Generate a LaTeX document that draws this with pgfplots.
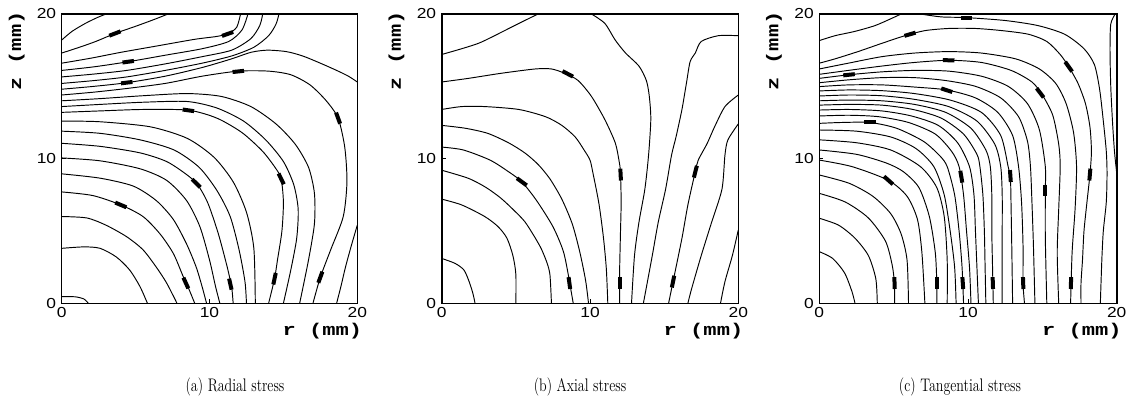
\documentclass[border=0pt]{standalone}
\usepackage{fontspec}
\usepackage{graphicx}
\usepackage{pgfplots}
\pgfplotsset{compat=1.18}
\newfontfamily\tickfont{Liberation Sans}
\newfontfamily\labfont{Liberation Mono}
\newcommand\tl[1]{\scalebox{1.2}[1]{\fontsize{14.5}{14.5}\selectfont\tickfont #1}}
\newcommand\lab[1]{\scalebox{1.3}[1]{\fontsize{17}{17}\selectfont\labfont\bfseries #1}}
\newcommand\capt[1]{\scalebox{1}[1.3]{\fontsize{14}{16}\selectfont #1}}
\newcommand\cl[1]{\addplot[cline] coordinates {#1};}
\newcommand\lb[4]{\addplot[lbl] coordinates {(#1,#2)(#3,#4)};}
\pgfplotsset{
  cline/.style={black, line width=0.95pt, smooth, tension=0.45, no marks},
  lbl/.style={black, line width=4pt, no marks, shorten <=-1.6pt, shorten >=-1.6pt},
  panel/.style={scale only axis, height=289.3pt, anchor=south west,
    xmin=0, xmax=20, ymin=0, ymax=20,
    xtick={0,10,20}, ytick={0,10,20},
    xticklabels={\tl{0},\tl{10},\tl{20}},
    yticklabels={\tl{0},\tl{10},\tl{20}},
    axis line style={line width=1.6pt},
    tick style={black, line width=0.8pt}, major tick length=4pt,
    tick align=inside, xtick pos=left, ytick pos=left,
    xticklabel style={yshift=-1pt}, yticklabel style={xshift=-2pt},
    clip=false}
}
\begin{document}
\begin{tikzpicture}
\path (0,0) rectangle (1136pt,418pt);
% ---------------- (a) Radial stress
\begin{axis}[panel, width=295.6pt, at={(61.7pt,114.7pt)}]
\cl{(0,0.46)(0.9,0.45)(1.5,0.3)(1.8,0)}
\cl{(0,3.8)(1.5,3.9)(2.6,3.8)(3.7,3.2)(4.6,2.3)(5.3,1.15)(5.8,0)}
\cl{(0,6.0)(1.7,5.9)(3.0,5.4)(4.4,4.6)(5.5,3.7)(6.4,2.5)(7.1,1.4)(7.8,0)}
\cl{(0,7.7)(2.1,7.45)(4.0,6.8)(5.5,6.0)(6.65,4.8)(7.55,3.45)(8.2,1.9)(8.6,1.0)(9.0,0)}
\cl{(0,8.95)(2.6,8.65)(4.85,8.1)(6.4,7.1)(7.55,5.8)(8.45,4.1)(9.1,2.5)(9.5,1.15)(9.8,0)}
\cl{(0,10.05)(2.6,9.85)(5.3,9.3)(7.1,8.5)(8.45,7.1)(9.35,5.3)(10.0,3.0)(10.4,1.2)(10.7,0)}
\cl{(0,11.06)(2.6,10.85)(5.3,10.4)(7.1,9.8)(8.45,8.9)(9.2,8.2)(9.9,6.9)(10.6,4.8)(11.2,2.5)(11.5,1.1)(11.6,0)}
\cl{(0,11.9)(2.6,11.75)(5.3,11.3)(7.6,10.6)(9.3,9.4)(10.5,7.8)(11.4,6.0)(12.0,3.7)(12.4,1.5)(12.5,0)}
\cl{(0,12.6)(2.6,12.55)(6.0,12.2)(8.5,11.4)(10.3,10.1)(11.6,8.4)(12.5,6.3)(13.0,3.8)(13.1,0)}
\cl{(0,13.2)(2.6,13.3)(5.5,13.4)(8.57,13.35)(10.5,12.8)(12.2,11.8)(13.6,10.5)(14.5,9.3)(14.85,8.6)(15.0,7.0)(14.9,5.0)(14.6,3.0)(14.4,1.7)(14.0,0)}
\cl{(0,13.6)(2.6,13.75)(5.5,13.9)(8.5,13.95)(10.5,13.5)(12.3,12.6)(13.8,11.3)(15.0,9.8)(15.7,8.2)(16.0,6.5)(15.9,4.5)(15.5,2.3)(15.0,0)}
\cl{(0,14.0)(2.6,14.15)(5.5,14.35)(8.5,14.5)(10.8,14.3)(12.8,13.6)(14.5,12.4)(15.8,11.0)(16.7,9.4)(17.1,7.6)(17.1,5.5)(16.7,3.0)(16.1,0)}
\cl{(0,14.4)(2.2,14.6)(4.4,14.85)(7,15.2)(9.5,15.7)(11.95,16.05)(14,16.05)(15.5,15.8)(16.8,15.1)(17.9,14.0)(18.7,12.8)(19.15,10.8)(19.3,8.4)(19.05,6.0)(18.2,3.7)(17.5,1.8)(17.0,0)}
\cl{(0,14.8)(2.2,15.0)(4.4,15.25)(7,15.7)(9.5,16.3)(11.5,16.9)(12.8,17.35)(13.9,17.5)(15.2,17.4)(16.3,17.1)(17.5,16.6)(18.6,16.1)(19.4,15.7)(20,15.3)}
\cl{(0,15.2)(2.2,15.4)(4.4,15.65)(7,16.1)(9.5,16.6)(11.5,17.1)(13.0,17.7)(14.0,18.5)(14.5,19.3)(14.7,20)}
\cl{(0,15.65)(2.2,15.85)(4.4,16.1)(7,16.55)(9.5,17.05)(11.5,17.5)(12.8,18.3)(13.4,19.2)(13.6,20)}
\cl{(0,16.1)(2.2,16.35)(4.5,16.7)(7,17.15)(9.5,17.6)(11.3,18.1)(12.2,18.9)(12.6,20)}
\cl{(0,16.6)(2,16.95)(4,17.35)(6.5,17.8)(9,18.25)(10.5,18.45)(11.3,18.65)(11.85,19.1)(12.1,20)}
\cl{(0,17.3)(1.2,17.7)(2.3,18.1)(3.6,18.65)(5,19.15)(6.2,19.6)(7.2,20)}
\cl{(0,18.2)(0.7,18.8)(1.6,19.35)(2.4,19.75)(3.0,20)}
\cl{(20,5.4)(19.6,4.0)(19.2,2.5)(18.9,1.2)(18.6,0)}
\lb{3.32}{18.54}{3.88}{18.76}
\lb{10.95}{18.52}{11.5}{18.72}
\lb{4.22}{16.66}{4.78}{16.74}
\lb{4.12}{15.22}{4.68}{15.29}
\lb{11.67}{16.0}{12.23}{16.06}
\lb{8.29}{13.38}{8.85}{13.3}
\lb{18.6}{13.08}{18.8}{12.52}
\lb{8.9}{8.5}{9.3}{8.1}
\lb{14.72}{8.87}{14.98}{8.33}
\lb{3.72}{6.92}{4.28}{6.68}
\lb{8.28}{1.67}{8.52}{1.13}
\lb{11.35}{1.6}{11.47}{1.05}
\lb{14.46}{1.99}{14.34}{1.41}
\lb{17.6}{2.08}{17.4}{1.52}
\node[anchor=base east, inner sep=0pt] at (axis cs:20.35,-2.2) {\lab{r (mm)}};
\node[rotate=90, anchor=base east, inner sep=0pt] at (axis cs:-2.75,20.2) {\lab{z (mm)}};
\end{axis}
% ---------------- (b) Axial stress
\begin{axis}[panel, width=296.6pt, at={(441.7pt,114.7pt)}]
\cl{(0,17.2)(1.35,17.6)(2.47,17.97)(3.37,18.4)(4.72,19.1)(5.6,19.55)(6.5,20)}
\cl{(0,15.3)(1.8,15.55)(4.0,15.9)(6.3,16.2)(7.4,16.2)(8.3,15.9)(9.2,15.4)(10.1,14.3)(11.0,12.7)(11.7,11.1)(11.95,9.9)(12.05,9.1)(12.1,7.0)(12.05,4.7)(12.0,2.4)(12.0,1.5)(12.0,0)}
\cl{(0,13.4)(1.35,13.6)(2.9,13.6)(5.2,13.4)(7.0,12.9)(8.1,12.3)(9.0,11.5)(9.6,10.6)(10.0,9.9)(10.2,9.0)(10.6,6.9)(10.9,4.6)(11.1,2.4)(11.2,0)}
\cl{(0,12.3)(1.6,12.1)(3.1,11.75)(4.5,11.1)(5.6,10.4)(6.5,9.6)(7.3,8.6)(8.1,7.2)(8.8,5.5)(9.3,3.6)(9.7,1.6)(9.9,0)}
\cl{(0,10.8)(1.46,10.6)(3.26,9.9)(4.5,9.1)(5.4,8.4)(6.4,7.1)(7.5,5.3)(8.2,3.6)(8.55,1.9)(8.7,1.0)(8.87,0)}
\cl{(0,9.2)(1.8,8.64)(3.0,8.0)(4.0,7.26)(4.9,6.4)(5.6,5.65)(6.2,4.7)(6.7,3.8)(7.1,2.8)(7.3,1.96)(7.4,0)}
\cl{(0,7.2)(1.35,6.8)(2.9,6.0)(3.8,5.3)(4.4,4.5)(4.8,3.3)(5.0,2.0)(5.0,0)}
\cl{(0,3.1)(0.9,2.76)(1.5,2.3)(1.85,1.5)(2.1,0.7)(2.25,0)}
\cl{(10.1,20)(11.0,19.35)(11.7,18.2)(12.4,17.3)(13.3,16.4)(13.8,15.4)(14.0,14.3)(14.1,12.7)(13.95,10.25)(13.7,7.9)(13.3,5.6)(13.0,3.3)(12.8,0)}
\cl{(20,18.5)(18.65,18.5)(17.5,18.1)(17.1,17.3)(16.75,16.7)(16.5,15.2)(16.2,13.4)(15.8,11.5)(15.5,10.25)(15.1,7.9)(14.6,5.6)(14.2,3.3)(13.6,0)}
\cl{(20,14.4)(19.1,13.6)(18.4,12.2)(17.9,11.05)(17.3,9.9)(17.1,9.1)(16.6,6.8)(16.2,4.5)(15.6,1.5)(15.3,0)}
\cl{(20,12.4)(19.3,11.3)(19.1,10.25)(18.9,7.9)(18.2,5.6)(17.5,3.3)(16.85,1.0)(16.6,0)}
\cl{(20,5.07)(19.6,3.3)(19.1,1.5)(18.8,0)}
\lb{8.24}{16.0}{8.76}{15.72}
\lb{12.05}{9.2}{12.08}{8.6}
\lb{12.0}{1.7}{12.0}{1.1}
\lb{5.16}{8.58}{5.64}{8.22}
\lb{8.57}{1.7}{8.65}{1.1}
\lb{17.18}{9.4}{17.03}{8.8}
\lb{15.66}{1.8}{15.54}{1.2}
\node[anchor=base east, inner sep=0pt] at (axis cs:20.35,-2.2) {\lab{r (mm)}};
\node[rotate=90, anchor=base east, inner sep=0pt] at (axis cs:-2.75,20.2) {\lab{z (mm)}};
\end{axis}
% ---------------- (c) Tangential stress
\begin{axis}[panel, width=297.4pt, at={(819.3pt,114.7pt)}]
\cl{(0,18.16)(1.06,18.5)(2.4,18.8)(3.75,19.2)(4.87,19.7)(5.5,20)}
\cl{(6.8,20)(8.2,19.8)(9.9,19.75)(12.5,19.55)(14.7,19.2)(16.5,18.6)(17.8,17.6)(18.5,16.5)(18.85,14.8)(19.1,12.6)(19.3,10.5)(19.35,9.0)(19.3,7.0)(19.1,5.0)(19.0,3.0)(18.9,0)}
\cl{(19.9,20)(19.6,19.3)(19.55,17.5)(19.6,15)(19.72,12.5)(19.85,10.5)(20,9.0)}
\cl{(0,16.6)(1.06,16.9)(2.6,17.4)(4.2,17.97)(5.76,18.5)(7.1,18.85)(8.7,19.0)(10.5,19.0)(12.3,18.85)(14.06,18.6)(15.3,18.1)(16.2,17.2)(16.77,16.36)(17.4,15.2)(17.9,13.8)(18.2,12.2)(18.3,10.5)(18.2,8.9)(18.0,7.0)(17.8,5.0)(17.7,3.0)(17.6,1.4)(17.6,0)}
\cl{(0,16.2)(1.95,16.6)(4.2,17.05)(6.4,17.3)(8.7,17.4)(10.9,17.3)(13.2,16.9)(14.8,16.2)(15.9,15.2)(16.6,13.8)(17.1,11.8)(17.3,9.45)(17.2,6.5)(17.0,3.5)(16.9,0)}
\cl{(0,15.83)(1.95,16.1)(4.2,16.4)(6.4,16.65)(8.7,16.8)(10.9,16.65)(12.9,16.1)(14.3,15.3)(15.0,14.4)(15.7,13.0)(16.1,11.0)(16.2,9.45)(16.1,6.5)(16.0,3.5)(16.1,0)}
\cl{(0,15.55)(2.0,15.8)(4.2,16.0)(6.4,16.1)(8.7,16.05)(10.9,15.7)(12.7,15.0)(14.0,13.8)(14.8,12.0)(15.2,9.45)(15.2,7.8)(15.2,4.5)(15.3,0)}
\cl{(0,15.25)(2,15.45)(4.2,15.6)(6.4,15.6)(8.5,15.4)(10.5,15.0)(12.2,14.2)(13.4,12.9)(14.0,11.2)(14.2,9.45)(14.3,7.0)(14.4,4.0)(14.5,0)}
\cl{(0,14.98)(2,15.1)(4.2,15.1)(6.4,14.95)(8.57,14.75)(10.5,14.2)(12.0,13.2)(13.0,11.6)(13.4,9.45)(13.6,7.0)(13.7,4.0)(13.7,1.4)(13.8,0)}
\cl{(0,14.68)(2,14.75)(4.2,14.7)(6.4,14.5)(8.8,14.05)(10.9,13.2)(12.2,11.6)(12.7,9.45)(12.85,8.8)(12.9,6.5)(12.95,3.5)(13.0,0)}
\cl{(0,14.33)(2,14.4)(4.2,14.35)(6.4,14.1)(8.7,13.6)(10.6,12.6)(11.8,11.0)(12.2,9.45)(12.3,7.5)(12.3,5)(12.3,2.5)(12.3,0)}
\cl{(0,14.0)(2,14.05)(4.2,14.0)(6.4,13.75)(8.5,13.2)(10.2,12.1)(11.2,10.6)(11.5,9.45)(11.6,7.5)(11.6,5)(11.65,2.5)(11.7,0)}
\cl{(0,13.7)(2,13.75)(4.2,13.7)(6.3,13.4)(8.2,12.8)(9.7,11.7)(10.6,10.3)(10.8,9.45)(11.0,7.5)(11.1,5)(11.15,2.5)(11.2,0)}
\cl{(0,13.36)(2,13.4)(4.2,13.3)(6.2,12.95)(8.0,12.3)(9.3,11.1)(10.1,9.45)(10.4,7.5)(10.5,5.0)(10.6,2.5)(10.7,0)}
\cl{(0,12.95)(2,13.0)(4,12.9)(6,12.5)(7.8,11.7)(8.9,10.5)(9.4,9.45)(9.7,7.5)(9.9,5.0)(10.1,2.5)(10.2,0)}
\cl{(0,12.44)(1.5,12.5)(3.4,12.5)(5.2,12.1)(7.0,11.2)(8.1,10.2)(8.6,9.45)(9.1,7.5)(9.4,5.0)(9.6,2.5)(9.7,0)}
\cl{(0,11.98)(2.5,11.9)(4.8,11.5)(6.5,10.7)(7.7,9.45)(8.4,7.5)(8.8,5.0)(9.1,2.5)(9.2,0)}
\cl{(0,11.3)(2.5,11.1)(4.8,10.6)(6.8,9.45)(7.9,8.0)(8.4,6.0)(8.6,3.0)(8.6,0)}
\cl{(0,10.6)(2.5,10.3)(4.5,9.7)(5.65,9.1)(6.7,8.0)(7.4,6.0)(7.8,3.5)(7.9,1.4)(7.9,0)}
\cl{(0,9.9)(2.2,9.45)(4.65,8.5)(5.9,7.4)(6.6,5.8)(6.9,3.5)(7.1,0)}
\cl{(0,8.87)(2.0,8.3)(3.6,7.4)(4.8,6.2)(5.5,4.8)(5.9,3.0)(6.0,0)}
\cl{(0,7.6)(1.75,7.0)(3.3,5.9)(4.45,4.3)(4.9,2.65)(5.05,1.4)(5.07,0)}
\cl{(0,5.88)(1.3,5.4)(2.4,4.5)(3.3,3.3)(3.8,1.7)(3.9,0)}
\cl{(0,3.57)(0.9,3.1)(1.7,2.1)(2.2,0.8)(2.4,0)}
\lb{5.83}{18.52}{6.37}{18.68}
\lb{9.62}{19.75}{10.18}{19.75}
\lb{8.42}{16.81}{8.98}{16.79}
\lb{1.72}{15.77}{2.28}{15.83}
\lb{8.3}{14.82}{8.84}{14.64}
\lb{14.68}{14.78}{15.02}{14.32}
\lb{16.6}{16.6}{16.94}{16.11}
\lb{3.12}{12.5}{3.68}{12.5}
\lb{4.43}{8.7}{4.87}{8.3}
\lb{9.5}{9.05}{9.6}{8.45}
\lb{12.83}{9.1}{12.87}{8.5}
\lb{15.2}{8.1}{15.2}{7.5}
\lb{18.22}{9.2}{18.17}{8.6}
\lb{5.05}{1.7}{5.07}{1.1}
\lb{7.9}{1.7}{7.9}{1.1}
\lb{9.63}{1.7}{9.67}{1.1}
\lb{11.66}{1.7}{11.68}{1.1}
\lb{13.7}{1.7}{13.72}{1.1}
\lb{16.93}{1.7}{16.92}{1.1}
\node[anchor=base east, inner sep=0pt] at (axis cs:20.35,-2.2) {\lab{r (mm)}};
\node[rotate=90, anchor=base east, inner sep=0pt] at (axis cs:-2.75,20.2) {\lab{z (mm)}};
\end{axis}
\node[anchor=base, inner sep=0pt] at (235pt,26pt) {\capt{(a) Radial stress}};
\node[anchor=base, inner sep=0pt] at (580pt,26pt) {\capt{(b) Axial stress}};
\node[anchor=base, inner sep=0pt] at (960pt,26pt) {\capt{(c) Tangential stress}};
\end{tikzpicture}
\end{document}
